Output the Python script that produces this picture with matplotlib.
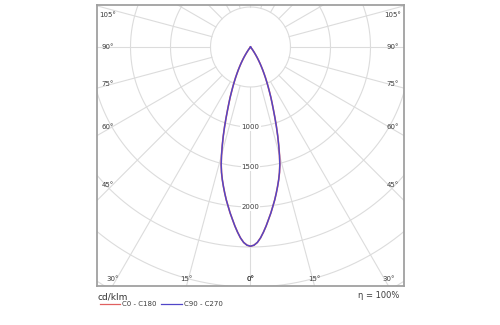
#!/usr/bin/env python3
"""Polar luminous intensity diagram (cd/klm), C0-C180 and C90-C270 planes."""
import numpy as np
import matplotlib
matplotlib.use("Agg")
import matplotlib.pyplot as plt
from matplotlib.lines import Line2D

# gamma angle (deg from nadir) and intensity (cd/klm)
GAMMA = [0, 1, 2, 3, 4, 5, 6, 7, 8, 9, 10, 11, 12, 13, 14, 15, 16, 17, 18, 19, 20,
         21, 22, 23, 24, 25, 26, 27, 28, 29, 30, 31, 32, 33, 34, 35, 36, 37, 38, 39, 40, 90, 180]
C0_C180 = [2490, 2478, 2445, 2390, 2320, 2245, 2165, 2090, 2010, 1935, 1855, 1775, 1695, 1610,
           1515, 1400, 1280, 1165, 1050, 940, 840, 755, 680, 605, 540, 480, 425, 372, 325, 280,
           240, 200, 165, 130, 98, 72, 50, 33, 20, 9, 0, 0, 0]
C90_C270 = [2490, 2478, 2445, 2390, 2320, 2245, 2165, 2090, 2010, 1935, 1855, 1775, 1695, 1610,
            1515, 1400, 1280, 1165, 1050, 940, 840, 755, 680, 605, 540, 480, 425, 372, 325, 280,
            240, 200, 165, 130, 98, 72, 50, 33, 20, 9, 0, 0, 0]

SERIES = ["C0 - C180", "C90 - C270"]
COLORS = ["#e06060", "#5046c8"]
RING_LABELS = [1000, 1500, 2000]
ANGLE_LABELS = [0, 15, 30, 45, 60, 75, 90, 105]
UNIT = "cd/klm"
EFFICIENCY = "η = 100%"

GRID = "#dcdcdc"
TXT = "#3c3c3c"

# 0.08 px per cd -> 12.5 cd per pixel at 100 dpi
CD_PER_PX = 12.5


def half_curve(gamma, values, side):
    g = np.radians(np.asarray(gamma, dtype=float))
    v = np.asarray(values, dtype=float)
    return side * v * np.sin(g), -v * np.cos(g)


def full_curve(gamma, values):
    xr, yr = half_curve(gamma, values, 1)
    xl, yl = half_curve(gamma, values, -1)
    return np.concatenate([xl[::-1], xr[1:]]), np.concatenate([yl[::-1], yr[1:]])


def main():
    fig = plt.figure(figsize=(5, 3.25), dpi=100)
    left, right, top, bottom = 97, 404, 4.5, 286
    ax = fig.add_axes([left / 500, 1 - bottom / 325, (right - left) / 500, (bottom - top) / 325])
    cx, cy = 250.5, 47
    x0, x1 = -(cx - left) * CD_PER_PX, (right - cx) * CD_PER_PX
    y0, y1 = -(bottom - cy) * CD_PER_PX, (cy - top) * CD_PER_PX
    ax.set_xlim(x0, x1)
    ax.set_ylim(y0, y1)
    ax.set_xticks([])
    ax.set_yticks([])
    for sp in ax.spines.values():
        sp.set_color("#a0a0a0")
        sp.set_linewidth(1.3)

    # grid rings and spokes
    t = np.linspace(0, 2 * np.pi, 400)
    for r in range(500, 4501, 500):
        ax.plot(r * np.cos(t), r * np.sin(t), color=GRID, lw=0.8, zorder=1)
    for a in range(0, 360, 15):
        ar = np.radians(a)
        ax.plot([500 * np.sin(ar), 4500 * np.sin(ar)], [-500 * np.cos(ar), -4500 * np.cos(ar)],
                color=GRID, lw=0.8, zorder=1)

    for r in RING_LABELS:
        ax.text(0, -r, str(r), ha="center", va="center", fontsize=5, color=TXT, zorder=3,
                bbox=dict(boxstyle="square,pad=0.15", fc="white", ec="none"))

    # angle labels where the spokes meet the frame
    ix, iy_top, iy_bot = 11 * CD_PER_PX, 10.5 * CD_PER_PX, 7 * CD_PER_PX
    for a in ANGLE_LABELS:
        ar = np.radians(a)
        for side in (-1, 1):
            dx, dy = side * np.sin(ar), -np.cos(ar)
            tx = (x1 if dx > 0 else -x0) / abs(dx) if abs(dx) > 1e-9 else np.inf
            ty = (y1 / dy if dy > 0 else y0 / dy) if abs(dy) > 1e-9 else np.inf
            tt = min(tx, ty)
            px, py = tt * dx, tt * dy
            if tx < ty and py < 0:
                py += 0.1 * abs(py)
            px = min(max(px, x0 + ix), x1 - ix)
            py = min(max(py, y0 + iy_bot), y1 - iy_top)
            ax.text(px, py, f"{a}°", ha="center", va="center", fontsize=5, color=TXT, zorder=3)

    for vals, color, lw in zip([C0_C180, C90_C270], COLORS, [1.2, 1.0]):
        x, y = full_curve(GAMMA, vals)
        ax.plot(x, y, color=color, lw=lw, zorder=4)

    # legend below the frame
    fig.text(left / 500, 1 - 297 / 325, UNIT, fontsize=6.5, color="#333333", va="center")
    ly = 1 - 304 / 325
    for (xa, xb), label, color in zip([(100, 120), (161, 182)], SERIES, COLORS):
        fig.add_artist(Line2D([xa / 500, xb / 500], [ly, ly], color=color, lw=0.9,
                              transform=fig.transFigure))
        fig.text((xb + 2.5) / 500, ly, label, fontsize=5, color=TXT, va="center")
    fig.text(399 / 500, 1 - 296 / 325, EFFICIENCY, fontsize=6, color=TXT, ha="right", va="center")

    fig.savefig("out.png", dpi=100)
    plt.close(fig)


if __name__ == "__main__":
    main()
